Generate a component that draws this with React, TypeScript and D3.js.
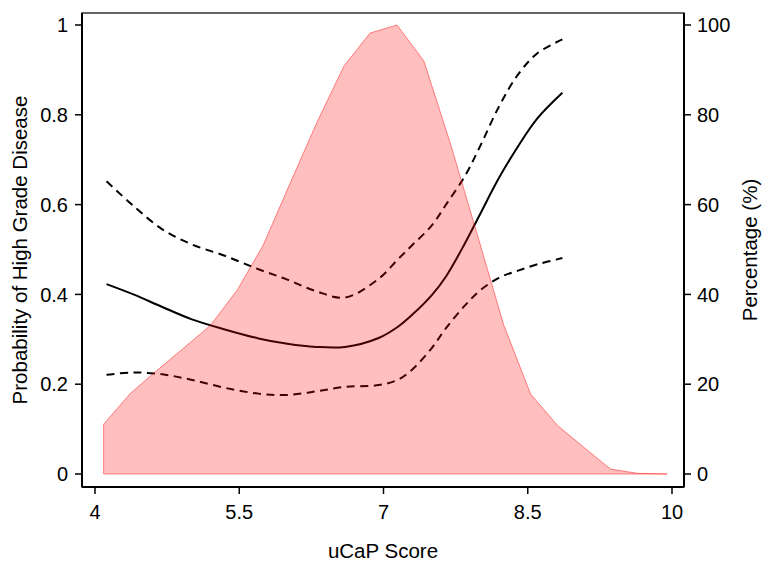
import { useEffect, useRef } from "react"
import * as d3 from "d3"

// fitted probability curve + 95% CI (left axis)
const scoreGrid = [4.12, 4.4, 4.7, 5.0, 5.35, 5.7, 6.0, 6.3, 6.6, 6.95, 7.15, 7.3, 7.5, 7.65, 7.85, 8.0, 8.2, 8.4, 8.6, 8.86]
const predProb = [0.423, 0.4, 0.372, 0.345, 0.322, 0.302, 0.29, 0.283, 0.283, 0.303, 0.328, 0.355, 0.398, 0.44, 0.515, 0.577, 0.659, 0.73, 0.792, 0.849]
const upperCI = [0.652, 0.597, 0.545, 0.512, 0.486, 0.456, 0.433, 0.407, 0.393, 0.435, 0.478, 0.51, 0.553, 0.6, 0.665, 0.728, 0.818, 0.89, 0.937, 0.968]
const lowerCI = [0.221, 0.226, 0.222, 0.21, 0.192, 0.179, 0.176, 0.184, 0.194, 0.198, 0.21, 0.233, 0.28, 0.325, 0.376, 0.408, 0.437, 0.453, 0.467, 0.481]

// distribution of score (right axis, %)
const distScore = [4.09, 4.37, 4.64, 4.92, 5.2, 5.48, 5.75, 6.03, 6.31, 6.59, 6.86, 7.14, 7.42, 7.7, 7.97, 8.25, 8.53, 8.81, 9.08, 9.36, 9.64, 9.95]
const distPct = [11.1, 18.0, 23.0, 28.0, 33.1, 41.0, 51.0, 64.8, 78.4, 90.9, 98.2, 100.0, 92.0, 73.3, 53.7, 33.2, 17.8, 10.8, 6.0, 1.1, 0.15, 0]

const xTicks = [4, 5.5, 7, 8.5, 10]
const yTicks = [0, 0.2, 0.4, 0.6, 0.8, 1]
const pctTicks = [0, 20, 40, 60, 80, 100]

const App = () => {
  const ref = useRef<SVGSVGElement>(null)
  const width = 762
  const height = 563

  useEffect(() => {
    document.body.style.margin = "0"
    const svg = d3.select(ref.current)
    svg.selectAll("*").remove()

    const box = { left: 82, right: 684, top: 13, bottom: 487 }
    const x = d3.scaleLinear().domain([4, 10]).range([95, 672])
    const y = d3.scaleLinear().domain([0, 1]).range([474, 25])
    const yPct = d3.scaleLinear().domain([0, 100]).range([474, 25])
    const font = "'Liberation Sans', Arial, sans-serif"

    svg.append("rect")
      .attr("width", width).attr("height", height).attr("fill", "white")

    // lines first, density area on top (semi transparent)
    const line = (vals: number[]) => d3.line<number>()
      .curve(d3.curveCatmullRom)
      .x((d, i) => x(scoreGrid[i]))
      .y(d => y(d))(vals)

    const lines = svg.append("g").attr("fill", "none").attr("stroke", "black").attr("stroke-width", 2)
    lines.append("path").attr("d", line(predProb))
    lines.append("path").attr("d", line(upperCI)).attr("stroke-dasharray", "8,5.5")
    lines.append("path").attr("d", line(lowerCI)).attr("stroke-dasharray", "8,5.5")

    const area = d3.area<number>()
      .x((d, i) => x(distScore[i]))
      .y0(yPct(0))
      .y1(d => yPct(d))
    svg.append("path")
      .attr("d", area(distPct))
      .attr("fill", "rgba(255,0,0,0.25)")
      .attr("stroke", "rgba(255,0,0,0.45)")
      .attr("stroke-width", 1)

    // frame
    svg.append("rect")
      .attr("x", box.left).attr("y", box.top)
      .attr("width", box.right - box.left).attr("height", box.bottom - box.top)
      .attr("fill", "none").attr("stroke", "#333").attr("stroke-width", 1.5)

    // left axis
    const gl = svg.append("g").attr("font-family", font).attr("font-size", 20)
    gl.append("line").attr("x1", box.left).attr("x2", box.left).attr("y1", box.top).attr("y2", box.bottom)
      .attr("stroke", "black").attr("stroke-width", 2)
    yTicks.forEach(t => {
      gl.append("line").attr("x1", box.left - 7).attr("x2", box.left).attr("y1", y(t)).attr("y2", y(t))
        .attr("stroke", "black").attr("stroke-width", 1.5)
      gl.append("text").attr("x", 68).attr("y", y(t)).attr("dy", "0.36em")
        .attr("text-anchor", "end").text(d3.format("~g")(t))
    })

    // right axis
    const gr = svg.append("g").attr("font-family", font).attr("font-size", 20)
    gr.append("line").attr("x1", box.right).attr("x2", box.right).attr("y1", box.top).attr("y2", box.bottom)
      .attr("stroke", "black").attr("stroke-width", 2)
    pctTicks.forEach(t => {
      gr.append("line").attr("x1", box.right).attr("x2", box.right + 7).attr("y1", yPct(t)).attr("y2", yPct(t))
        .attr("stroke", "black").attr("stroke-width", 1.5)
      gr.append("text").attr("x", 697).attr("y", yPct(t)).attr("dy", "0.36em")
        .attr("text-anchor", "start").text(t)
    })

    // bottom axis
    const gb = svg.append("g").attr("font-family", font).attr("font-size", 20)
    gb.append("line").attr("x1", box.left).attr("x2", box.right).attr("y1", box.bottom).attr("y2", box.bottom)
      .attr("stroke", "black").attr("stroke-width", 2)
    xTicks.forEach(t => {
      gb.append("line").attr("x1", x(t)).attr("x2", x(t)).attr("y1", box.bottom).attr("y2", box.bottom + 7)
        .attr("stroke", "black").attr("stroke-width", 1.5)
      gb.append("text").attr("x", x(t)).attr("y", 519)
        .attr("text-anchor", "middle").text(t)
    })

    // titles
    svg.append("text").attr("font-family", font).attr("font-size", 20.5)
      .attr("x", 383).attr("y", 558).attr("text-anchor", "middle").text("uCaP Score")
    svg.append("text").attr("font-family", font).attr("font-size", 20.5)
      .attr("transform", `translate(27,${(box.top + box.bottom) / 2}) rotate(-90)`)
      .attr("text-anchor", "middle").text("Probability of High Grade Disease")
    svg.append("text").attr("font-family", font).attr("font-size", 20.5)
      .attr("transform", `translate(757,${(box.top + box.bottom) / 2}) rotate(-90)`)
      .attr("text-anchor", "middle").text("Percentage (%)")
  }, [])

  return <svg ref={ref} width={width} height={height} style={{ display: "block" }} />
}

export default App
